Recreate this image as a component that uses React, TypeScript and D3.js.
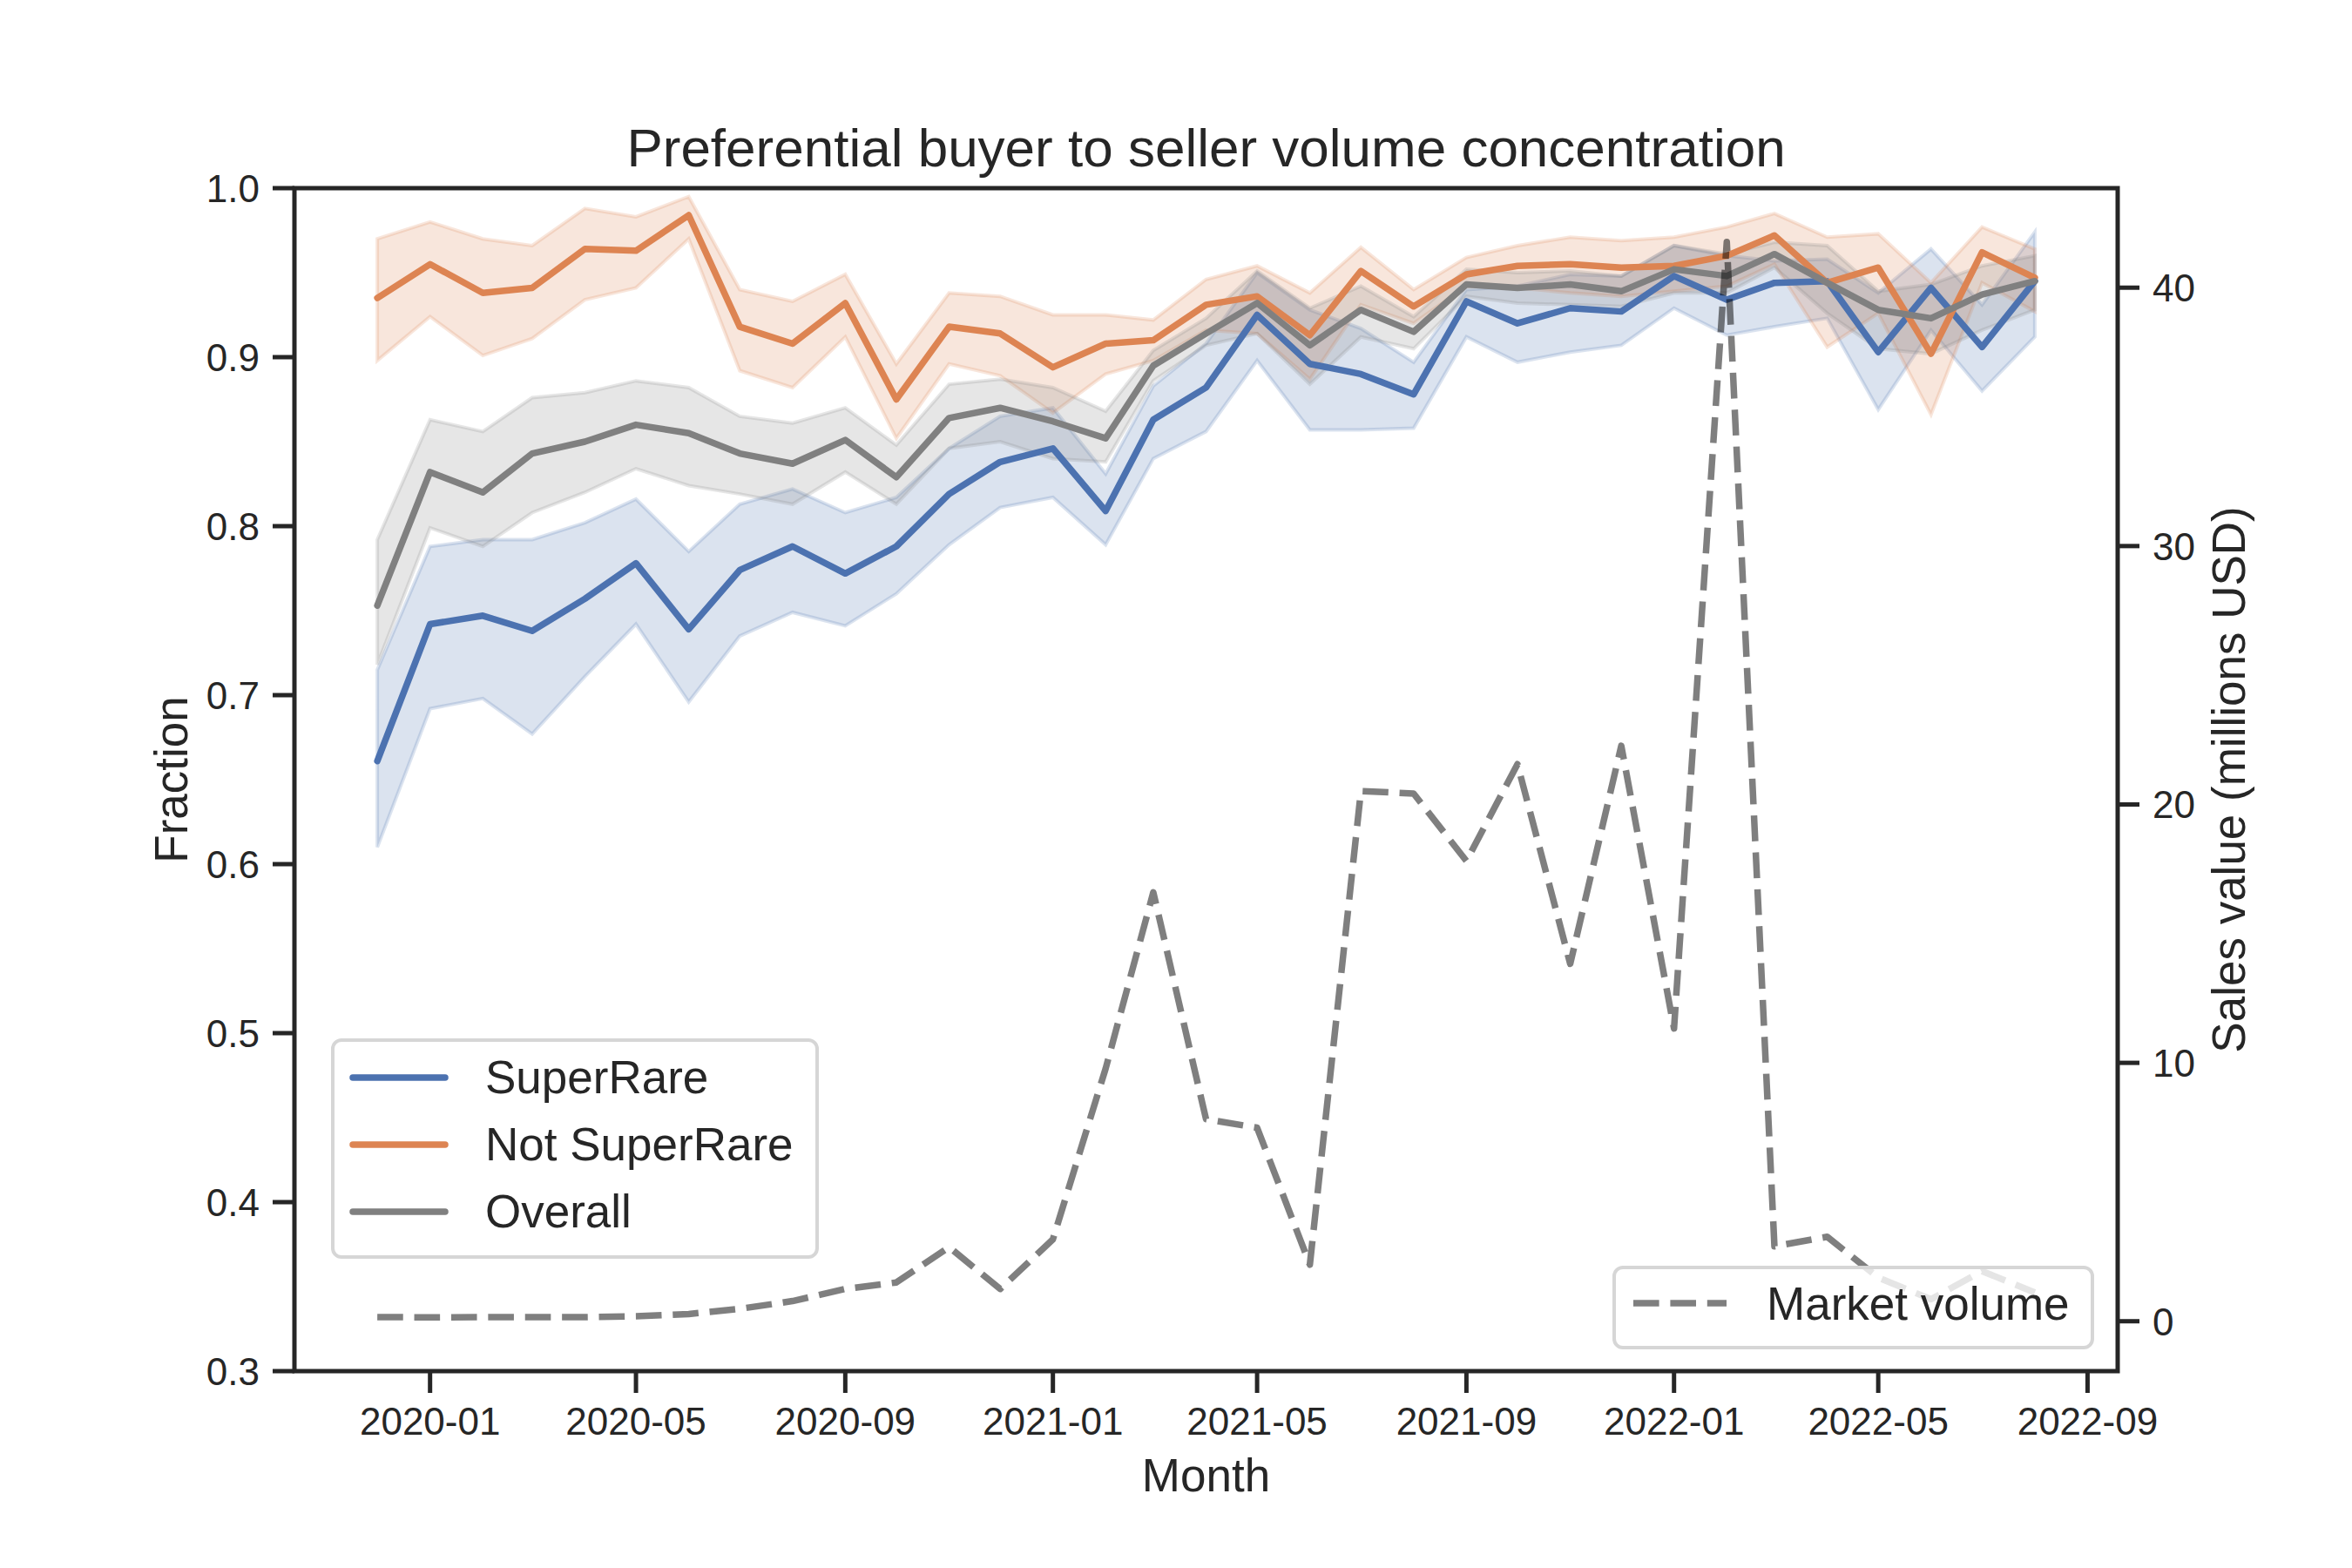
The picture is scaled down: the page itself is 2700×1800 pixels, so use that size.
import { useEffect, useRef } from 'react'
import * as d3 from 'd3'

const months = [
  '2019-12', '2020-01', '2020-02', '2020-03', '2020-04', '2020-05', '2020-06', '2020-07',
  '2020-08', '2020-09', '2020-10', '2020-11', '2020-12', '2021-01', '2021-02', '2021-03',
  '2021-04', '2021-05', '2021-06', '2021-07', '2021-08', '2021-09', '2021-10', '2021-11',
  '2021-12', '2022-01', '2022-02', '2022-03', '2022-04', '2022-05', '2022-06', '2022-07',
  '2022-08',
]

const superRare = [0.661, 0.742, 0.747, 0.738, 0.757, 0.778, 0.739, 0.774, 0.788, 0.772, 0.788, 0.819, 0.838, 0.846, 0.809, 0.863, 0.882, 0.925, 0.896, 0.890, 0.878, 0.933, 0.920, 0.929, 0.927, 0.948, 0.934, 0.944, 0.945, 0.903, 0.941, 0.906, 0.945]
const superRareLow = [0.610, 0.692, 0.698, 0.677, 0.711, 0.742, 0.696, 0.735, 0.749, 0.741, 0.760, 0.789, 0.811, 0.817, 0.789, 0.840, 0.856, 0.898, 0.857, 0.857, 0.858, 0.912, 0.897, 0.903, 0.907, 0.929, 0.913, 0.918, 0.923, 0.869, 0.916, 0.880, 0.912]
const superRareHigh = [0.715, 0.788, 0.792, 0.792, 0.802, 0.816, 0.785, 0.813, 0.822, 0.808, 0.817, 0.846, 0.865, 0.870, 0.831, 0.883, 0.908, 0.950, 0.928, 0.917, 0.897, 0.940, 0.942, 0.949, 0.948, 0.966, 0.960, 0.957, 0.958, 0.938, 0.964, 0.931, 0.974]

const notSuperRare = [0.935, 0.955, 0.938, 0.941, 0.964, 0.963, 0.984, 0.918, 0.908, 0.932, 0.875, 0.918, 0.914, 0.894, 0.908, 0.910, 0.931, 0.936, 0.913, 0.951, 0.930, 0.949, 0.954, 0.955, 0.953, 0.954, 0.960, 0.972, 0.944, 0.953, 0.902, 0.962, 0.947]
const notSuperRareLow = [0.898, 0.924, 0.901, 0.911, 0.934, 0.941, 0.970, 0.892, 0.882, 0.912, 0.852, 0.896, 0.889, 0.867, 0.890, 0.898, 0.916, 0.914, 0.887, 0.931, 0.920, 0.942, 0.941, 0.938, 0.936, 0.939, 0.942, 0.955, 0.906, 0.926, 0.866, 0.944, 0.927]
const notSuperRareHigh = [0.970, 0.980, 0.970, 0.966, 0.988, 0.983, 0.995, 0.940, 0.933, 0.949, 0.896, 0.938, 0.936, 0.925, 0.925, 0.922, 0.946, 0.954, 0.938, 0.965, 0.940, 0.959, 0.966, 0.971, 0.969, 0.971, 0.977, 0.985, 0.971, 0.973, 0.944, 0.977, 0.964]

const overall = [0.753, 0.832, 0.820, 0.843, 0.850, 0.860, 0.855, 0.843, 0.837, 0.851, 0.829, 0.864, 0.870, 0.862, 0.852, 0.895, 0.914, 0.932, 0.907, 0.928, 0.915, 0.943, 0.941, 0.943, 0.939, 0.952, 0.948, 0.961, 0.944, 0.928, 0.923, 0.937, 0.945]
const overallLow = [0.718, 0.799, 0.788, 0.808, 0.820, 0.834, 0.824, 0.819, 0.813, 0.832, 0.813, 0.846, 0.850, 0.840, 0.838, 0.886, 0.907, 0.914, 0.884, 0.912, 0.905, 0.936, 0.932, 0.931, 0.930, 0.938, 0.938, 0.953, 0.926, 0.905, 0.902, 0.916, 0.928]
const overallHigh = [0.792, 0.863, 0.856, 0.876, 0.879, 0.886, 0.882, 0.865, 0.861, 0.870, 0.848, 0.884, 0.887, 0.882, 0.868, 0.904, 0.923, 0.951, 0.929, 0.942, 0.924, 0.952, 0.950, 0.951, 0.948, 0.966, 0.961, 0.968, 0.966, 0.939, 0.943, 0.954, 0.960]

// monthly sales, millions USD (right axis)
const marketVolume = [0.16, 0.15, 0.16, 0.16, 0.16, 0.19, 0.28, 0.48, 0.78, 1.25, 1.5, 2.87, 1.25, 3.17, 9.78, 16.6, 7.82, 7.49, 2.19, 20.52, 20.42, 17.81, 21.56, 13.83, 22.27, 11.33, 41.77, 2.9, 3.27, 1.69, 0.85, 1.94, 1.11]

const fractionTicks = [0.3, 0.4, 0.5, 0.6, 0.7, 0.8, 0.9, 1.0]
const salesTicks = [0, 10, 20, 30, 40]
const monthTicks = ['2020-01', '2020-05', '2020-09', '2021-01', '2021-05', '2021-09', '2022-01', '2022-05', '2022-09']

const seriesNames = ['SuperRare', 'Not SuperRare', 'Overall']
const seriesColors = ['#4c72b0', '#dd8452', '#808080']

const W = 2700
const H = 1800
const FONT = '"Liberation Sans", Arial, "DejaVu Sans", sans-serif'
const INK = '#262626'

export default function App() {
  const svgRef = useRef<SVGSVGElement>(null)

  useEffect(() => {
    if (!svgRef.current) return
    const svg = d3.select(svgRef.current)
    svg.selectAll('*').remove()

    const left = 338
    const right = 2431
    const top = 216
    const bottom = 1574

    const parse = d3.utcParse('%Y-%m')
    const dates = months.map(m => parse(m) as Date)
    const t0 = +dates[0]
    const t1 = +dates[dates.length - 1]
    const pad = (t1 - t0) * 0.05

    const x = d3.scaleUtc().domain([new Date(t0 - pad), new Date(t1 + pad)]).range([left, right])
    const y = d3.scaleLinear().domain([0.3, 1.0]).range([bottom, top])

    const vMin = d3.min(marketVolume) as number
    const vMax = d3.max(marketVolume) as number
    const vPad = (vMax - vMin) * 0.05
    const y2 = d3.scaleLinear().domain([vMin - vPad, vMax + vPad]).range([bottom, top])

    const series = [
      { mean: superRare, low: superRareLow, high: superRareHigh },
      { mean: notSuperRare, low: notSuperRareLow, high: notSuperRareHigh },
      { mean: overall, low: overallLow, high: overallHigh },
    ].map((s, i) => ({ ...s, name: seriesNames[i], color: seriesColors[i] }))

    svg.append('rect').attr('width', W).attr('height', H).attr('fill', '#ffffff')

    // confidence bands go under every line
    series.forEach(s => {
      const area = d3.area<number>()
        .x((_, i) => x(dates[i]))
        .y0((_, i) => y(s.low[i]))
        .y1((_, i) => y(s.high[i]))
      svg.append('path')
        .attr('d', area(s.mean))
        .attr('fill', s.color)
        .attr('fill-opacity', 0.2)
        .attr('stroke', s.color)
        .attr('stroke-opacity', 0.2)
        .attr('stroke-width', 4)
    })

    series.forEach(s => {
      const line = d3.line<number>()
        .x((_, i) => x(dates[i]))
        .y(d => y(d))
      svg.append('path')
        .attr('d', line(s.mean))
        .attr('fill', 'none')
        .attr('stroke', s.color)
        .attr('stroke-width', 7.5)
        .attr('stroke-linecap', 'round')
        .attr('stroke-linejoin', 'round')
    })

    // market volume on the twin axis
    const volLine = d3.line<number>()
      .x((_, i) => x(dates[i]))
      .y(d => y2(d))
    svg.append('path')
      .attr('d', volLine(marketVolume))
      .attr('fill', 'none')
      .attr('stroke', '#000000')
      .attr('stroke-opacity', 0.5)
      .attr('stroke-width', 7.5)
      .attr('stroke-dasharray', '29.6,12.8')
      .attr('stroke-linejoin', 'round')

    // frame
    svg.append('rect')
      .attr('x', left).attr('y', top)
      .attr('width', right - left).attr('height', bottom - top)
      .attr('fill', 'none')
      .attr('stroke', INK)
      .attr('stroke-width', 5)

    const tickLen = 25
    const tickFont = 44

    fractionTicks.forEach(v => {
      svg.append('line')
        .attr('x1', left - tickLen).attr('x2', left)
        .attr('y1', y(v)).attr('y2', y(v))
        .attr('stroke', INK).attr('stroke-width', 5)
      svg.append('text')
        .attr('x', left - tickLen - 15).attr('y', y(v))
        .attr('dy', '0.36em')
        .attr('text-anchor', 'end')
        .attr('font-size', tickFont)
        .attr('font-family', FONT)
        .attr('fill', INK)
        .text(d3.format('.1f')(v))
    })

    salesTicks.forEach(v => {
      svg.append('line')
        .attr('x1', right).attr('x2', right + tickLen)
        .attr('y1', y2(v)).attr('y2', y2(v))
        .attr('stroke', INK).attr('stroke-width', 5)
      svg.append('text')
        .attr('x', right + tickLen + 15).attr('y', y2(v))
        .attr('dy', '0.36em')
        .attr('text-anchor', 'start')
        .attr('font-size', tickFont)
        .attr('font-family', FONT)
        .attr('fill', INK)
        .text(String(v))
    })

    monthTicks.forEach(m => {
      const xv = x(parse(m) as Date)
      svg.append('line')
        .attr('x1', xv).attr('x2', xv)
        .attr('y1', bottom).attr('y2', bottom + tickLen)
        .attr('stroke', INK).attr('stroke-width', 5)
      svg.append('text')
        .attr('x', xv).attr('y', 1647)
        .attr('text-anchor', 'middle')
        .attr('font-size', tickFont)
        .attr('font-family', FONT)
        .attr('fill', INK)
        .text(m)
    })

    // titles and axis labels
    const midX = (left + right) / 2
    const midY = (top + bottom) / 2
    svg.append('text')
      .attr('x', midX).attr('y', 191)
      .attr('text-anchor', 'middle')
      .attr('font-size', 62)
      .attr('font-family', FONT)
      .attr('fill', INK)
      .text('Preferential buyer to seller volume concentration')
    svg.append('text')
      .attr('x', midX).attr('y', 1712)
      .attr('text-anchor', 'middle')
      .attr('font-size', 53)
      .attr('font-family', FONT)
      .attr('fill', INK)
      .text('Month')
    svg.append('text')
      .attr('transform', `translate(215,${midY}) rotate(-90)`)
      .attr('text-anchor', 'middle')
      .attr('font-size', 53)
      .attr('font-family', FONT)
      .attr('fill', INK)
      .text('Fraction')
    svg.append('text')
      .attr('transform', `translate(2577,${midY}) rotate(-90)`)
      .attr('text-anchor', 'middle')
      .attr('font-size', 53)
      .attr('font-family', FONT)
      .attr('fill', INK)
      .text('Sales value (millions USD)')

    // legend for the fractions
    const lg = svg.append('g')
    lg.append('rect')
      .attr('x', 382).attr('y', 1194)
      .attr('width', 556).attr('height', 249)
      .attr('rx', 10).attr('ry', 10)
      .attr('fill', '#ffffff').attr('fill-opacity', 0.8)
      .attr('stroke', '#d6d6d6').attr('stroke-width', 4)
    series.forEach((s, i) => {
      const ly = 1237 + i * 77
      lg.append('line')
        .attr('x1', 405).attr('x2', 511)
        .attr('y1', ly).attr('y2', ly)
        .attr('stroke', s.color)
        .attr('stroke-width', 7.5)
        .attr('stroke-linecap', 'round')
      lg.append('text')
        .attr('x', 557).attr('y', ly + 18)
        .attr('font-size', 53)
        .attr('font-family', FONT)
        .attr('fill', INK)
        .text(s.name)
    })

    // legend for the market volume
    const lg2 = svg.append('g')
    lg2.append('rect')
      .attr('x', 1853).attr('y', 1455)
      .attr('width', 549).attr('height', 92)
      .attr('rx', 10).attr('ry', 10)
      .attr('fill', '#ffffff').attr('fill-opacity', 0.8)
      .attr('stroke', '#d6d6d6').attr('stroke-width', 4)
    lg2.append('line')
      .attr('x1', 1875).attr('x2', 1982)
      .attr('y1', 1496).attr('y2', 1496)
      .attr('stroke', '#000000')
      .attr('stroke-opacity', 0.5)
      .attr('stroke-width', 7.5)
      .attr('stroke-dasharray', '29.6,12.8')
    lg2.append('text')
      .attr('x', 2028).attr('y', 1515)
      .attr('font-size', 53)
      .attr('font-family', FONT)
      .attr('fill', INK)
      .text('Market volume')
  }, [])

  return (
    <div style={{ position: 'absolute', left: 0, top: 0, width: W, height: H }}>
      <svg ref={svgRef} width={W} height={H} viewBox={`0 0 ${W} ${H}`} style={{ display: 'block' }} />
    </div>
  )
}
